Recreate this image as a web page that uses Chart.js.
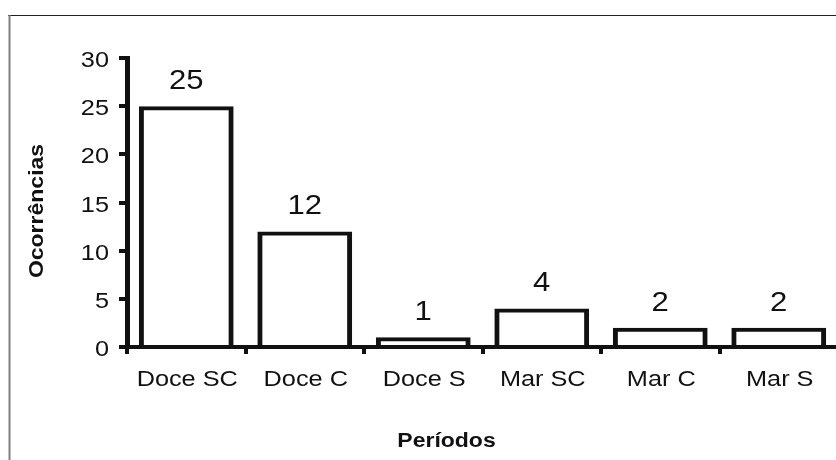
<!DOCTYPE html>
<html>
<head>
<meta charset="utf-8">
<script src="https://cdn.jsdelivr.net/npm/chart.js@4.4.1/dist/chart.umd.min.js"></script>
<style>
  html, body { margin: 0; padding: 0; background: #ffffff; overflow: hidden; width: 836px; height: 460px; }
  canvas { display: block; }
</style>
</head>
<body>
<canvas id="c" width="840" height="460"></canvas>
<script>
// ---- data ----
const categories = ['Doce SC', 'Doce C', 'Doce S', 'Mar SC', 'Mar C', 'Mar S'];
const occurrences = [25, 12, 1, 4, 2, 2];
const yMin = 0;
const yMax = 30;
const yStep = 5;
const xAxisTitle = 'Períodos';
const yAxisTitle = 'Ocorrências';

// ---- style ----
const INK = '#111111';
const FONT = "'Liberation Sans', Arial, Helvetica, sans-serif";
const TEXT_STRETCH = 1.15; // reference glyphs are drawn wider than Arial

const canvas = document.getElementById('c');
const ctx = canvas.getContext('2d');
const nativeFill = ctx.fillText.bind(ctx);
ctx.fillText = function (text, x, y, maxWidth) {
  this.save();
  this.translate(x, y);
  this.scale(TEXT_STRETCH, 1);
  if (maxWidth === undefined || maxWidth === null) nativeFill(text, 0, 0);
  else nativeFill(text, 0, 0, maxWidth / TEXT_STRETCH);
  this.restore();
};

const framePlugin = {
  id: 'frame',
  beforeDraw(chart) {
    const c = chart.ctx;
    c.save();
    c.strokeStyle = '#222222';
    c.lineWidth = 1;
    c.beginPath(); c.moveTo(8, 15.5); c.lineTo(chart.width, 15.5); c.stroke();
    c.strokeStyle = '#808080';
    c.lineWidth = 2;
    c.beginPath(); c.moveTo(9.5, 15); c.lineTo(9.5, chart.height); c.stroke();
    c.restore();
  }
};

const valueLabels = {
  id: 'valueLabels',
  afterDatasetsDraw(chart) {
    const c = chart.ctx;
    const meta = chart.getDatasetMeta(0);
    const values = chart.data.datasets[0].data;
    c.save();
    c.font = '27px ' + FONT;
    c.fillStyle = INK;
    c.textAlign = 'center';
    c.textBaseline = 'alphabetic';
    meta.data.forEach((bar, i) => c.fillText(String(values[i]), bar.x, bar.y - 17));
    c.restore();
  }
};

const axisTitles = {
  id: 'axisTitles',
  afterDraw(chart) {
    const c = chart.ctx;
    c.save();
    c.font = 'bold 20px ' + FONT;
    c.fillStyle = INK;
    c.textAlign = 'center';
    c.textBaseline = 'alphabetic';
    c.fillText(xAxisTitle, 446.5, 447);
    c.translate(43, 211);
    c.rotate(-Math.PI / 2);
    c.fillText(yAxisTitle, 0, 0);
    c.restore();
  }
};

new Chart(ctx, {
  type: 'bar',
  data: {
    labels: categories,
    datasets: [{
      data: occurrences,
      backgroundColor: 'rgba(255,255,255,0)',
      borderColor: INK,
      borderWidth: { top: 4, left: 5, right: 5, bottom: 0 },
      borderSkipped: 'start',
      barPercentage: 0.8,
      categoryPercentage: 1
    }]
  },
  options: {
    responsive: false,
    animation: false,
    devicePixelRatio: 1,
    layout: { padding: { left: 0, top: 58, right: 2, bottom: 0 } },
    plugins: {
      legend: { display: false },
      tooltip: { enabled: false },
      title: { display: false }
    },
    scales: {
      x: {
        grid: { display: true, drawOnChartArea: false, drawTicks: true, tickLength: 7, lineWidth: 4, color: INK, offset: true },
        border: { display: true, color: INK, width: 4 },
        ticks: { color: INK, font: { family: FONT, size: 22 }, padding: 13, labelOffset: 1, maxRotation: 0, minRotation: 0, autoSkip: false },
        afterFit(scale) { scale.height = 113; }
      },
      y: {
        min: yMin,
        max: yMax,
        grid: { display: true, drawOnChartArea: false, drawTicks: true, tickLength: 8, lineWidth: 4, color: INK },
        border: { display: true, color: INK, width: 5 },
        ticks: { stepSize: yStep, color: INK, font: { family: FONT, size: 22 }, padding: 10, labelOffset: 3 },
        afterFit(scale) { scale.width = 127; }
      }
    }
  },
  plugins: [framePlugin, valueLabels, axisTitles]
});
</script>
</body>
</html>
